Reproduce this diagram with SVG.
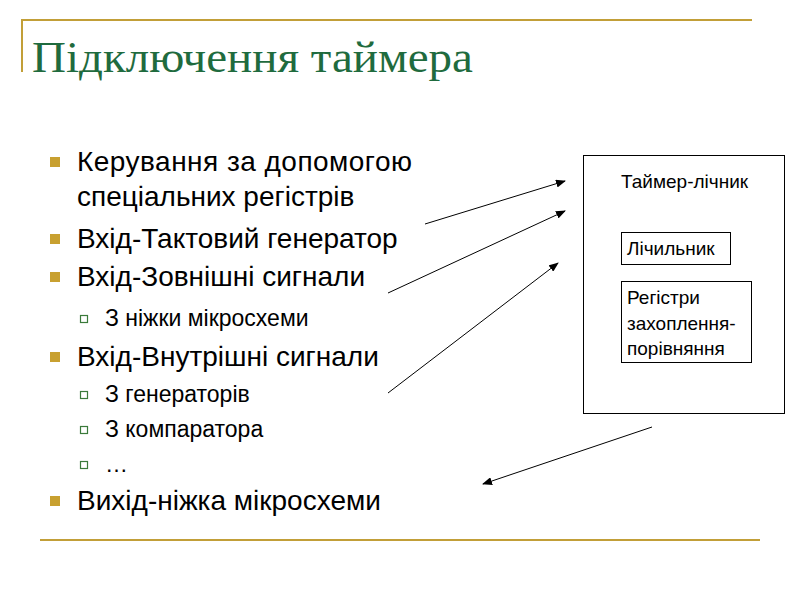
<svg xmlns="http://www.w3.org/2000/svg" width="800" height="600" viewBox="0 0 800 600">
<defs>
<style>
.t{font-family:'Liberation Sans',Arial,sans-serif;fill:#000}
.b{font-size:28px}.s{font-size:23px}.n{font-size:19px}
.box{fill:#fff;stroke:#000;stroke-width:1}
.c{stroke:#000;stroke-width:1;fill:none;marker-end:url(#ah)}
.g{stroke:#c29f38;stroke-width:2}
.h{font-family:'Liberation Serif','Times New Roman',serif;font-size:44px;fill:#1f6b3e}
</style>
<marker id="ah" markerWidth="10" markerHeight="8" refX="9" refY="4" orient="auto" markerUnits="userSpaceOnUse"><path d="M0,0 L10,4 L0,8 z" fill="#000"/></marker>
</defs>
<rect width="800" height="600" fill="#fff"/>
<line class="g" x1="21" y1="20" x2="752" y2="20"/>
<line class="g" x1="22" y1="19" x2="22" y2="72"/>
<line class="g" x1="40" y1="540" x2="760" y2="540"/>
<text class="h" x="32" y="72" textLength="441" lengthAdjust="spacingAndGlyphs">Підключення таймера</text>
<g id="bullets">
<g fill="#c8a030"><rect x="50" y="157" width="10" height="10"/><rect x="50" y="234" width="10" height="10"/><rect x="50" y="272" width="10" height="10"/><rect x="50" y="352" width="10" height="10"/><rect x="50" y="496" width="10" height="10"/></g>
<g fill="none" stroke="#3a7a3a" stroke-width="1.2"><rect x="80.5" y="315.5" width="7" height="7"/><rect x="80.5" y="391.5" width="7" height="7"/><rect x="80.5" y="426.5" width="7" height="7"/><rect x="80.5" y="461.5" width="7" height="7"/></g>
<text class="t b" x="77" y="171" textLength="335">Керування за допомогою</text>
<text class="t b" x="77" y="206">спеціальних регістрів</text>
<text class="t b" x="77" y="248">Вхід-Тактовий генератор</text>
<text class="t b" x="77" y="286">Вхід-Зовнішні сигнали</text>
<text class="t s" x="105" y="326">З ніжки мікросхеми</text>
<text class="t b" x="77" y="366">Вхід-Внутрішні сигнали</text>
<text class="t s" x="105" y="402">З генераторів</text>
<text class="t s" x="105" y="437">З компаратора</text>
<text class="t s" x="105" y="472">…</text>
<text class="t b" x="77" y="510">Вихід-ніжка мікросхеми</text>
</g>
<g id="timer"><rect class="box" x="583.5" y="155.5" width="201" height="258"/><text class="t n" x="621" y="188">Таймер-лічник</text></g>
<g id="counter"><rect class="box" x="621.5" y="232.5" width="109" height="32"/><text class="t n" x="627" y="255">Лічильник</text></g>
<g id="regs"><rect class="box" x="621.5" y="281.5" width="130" height="81"/><text class="t n" x="627" y="304">Регістри</text><text class="t n" x="627" y="330">захоплення-</text><text class="t n" x="627" y="355">порівняння</text></g>
<g id="connectors">
<line class="c" x1="425" y1="224" x2="565" y2="181"/>
<line class="c" x1="388" y1="293" x2="565" y2="211"/>
<line class="c" x1="388" y1="393" x2="558" y2="263"/>
<line class="c" x1="652" y1="427" x2="483" y2="484"/>
</g>
</svg>
